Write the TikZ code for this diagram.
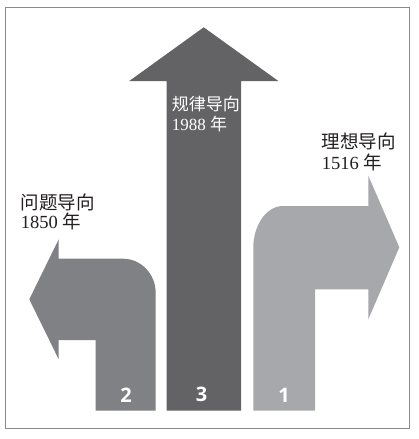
\documentclass[tikz,border=0pt]{standalone}
\usepackage{fontspec}
\setmainfont{Liberation Serif}
\newfontfamily\cjk{Noto Sans CJK SC}
\newfontfamily\numfont{Open Sans}
\definecolor{arrowone}{HTML}{A7A8AB}
\definecolor{arrowtwo}{HTML}{808184}
\definecolor{arrowthree}{HTML}{636365}
\definecolor{labeldark}{HTML}{231F20}
\definecolor{framegray}{HTML}{8A8A8A}
\tikzset{
  sidelabel/.style={anchor=west,inner sep=0pt,text=labeldark,font=\fontsize{18.5}{20}\selectfont},
  midlabel/.style={anchor=west,inner sep=0pt,text=white,font=\fontsize{17}{19}\selectfont},
  numlabel/.style={inner sep=0pt,text=white,font=\numfont\bfseries\fontsize{20}{22}\selectfont},
}
\begin{document}
\begin{tikzpicture}[x=1pt,y=-1pt]
\useasboundingbox (0,0) rectangle (419,439);
\fill[white] (0,0) rectangle (419,439);
\draw[framegray,line width=0.9pt] (5.3,7.3) rectangle (409.3,428);
% arrow 3 (up)
\fill[arrowthree] (166.7,410.7) -- (241,410.7) -- (241,81) -- (278.3,81) -- (203.7,27.3) -- (129.3,81) -- (166.7,81) -- cycle;
% arrow 2 (left)
\fill[arrowtwo] (95.7,410.7) -- (155.7,410.7) -- (155.7,293)
  .. controls (155.7,274.1) and (141.1,258.7) .. (123,258.7)
  -- (58.7,258.7) -- (58.7,239.3) -- (29.3,299.3) -- (58.7,359.3) -- (58.7,340) -- (95.7,340) -- cycle;
% arrow 1 (right)
\fill[arrowone] (253.3,410.7) -- (315,410.7) -- (315,289.3) -- (368.3,289.3) -- (368.3,319.3)
  -- (399.3,247.3) -- (368.3,175.7) -- (368.3,206) -- (283,206)
  .. controls (266.6,206) and (253.3,224.8) .. (253.3,248) -- cycle;
% labels
\node[midlabel] (t3a) at (171.7,104.3) {\cjk 规律导向};
\node[midlabel] (t3b) at (171.7,124) {1988 {\cjk 年}};
\node[sidelabel] (t1a) at (321.7,141.7) {\cjk 理想导向};
\node[sidelabel] (t1b) at (321.7,162.3) {1516 {\cjk 年}};
\node[sidelabel] (t2a) at (20.7,202) {\cjk 问题导向};
\node[sidelabel] (t2b) at (20.7,221.7) {1850 {\cjk 年}};
\node[numlabel] (n2) at (126,395.7) {2};
\node[numlabel] (n3) at (201.7,394.3) {3};
\node[numlabel] (n1) at (284,395) {1};
\end{tikzpicture}
\end{document}
